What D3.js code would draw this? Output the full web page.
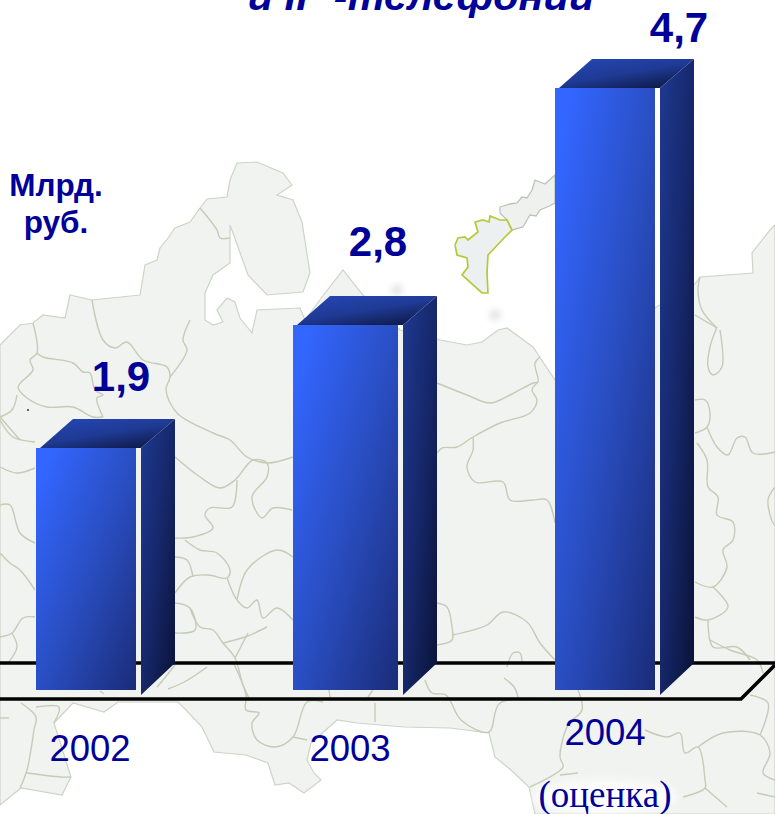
<!DOCTYPE html>
<html><head><meta charset="utf-8">
<script src="https://cdn.jsdelivr.net/npm/d3@7"></script>
<style>html,body{margin:0;padding:0;background:#fff;overflow:hidden}svg{display:block}text{font-family:"Liberation Sans",Arial,sans-serif;fill:#000099}</style>
</head><body><svg id="c" width="775" height="814"></svg>
<script>
const years=["2002","2003","2004"];
const values=[1.9,2.8,4.7];
const valueLabels=["1,9","2,8","4,7"];
const unitLines=["Млрд.","руб."];
const titleText="и IP -телефонии";
const noteText="(оценка)";

// Decorative backdrop map (not data): hand-traced outlines
const land=[[0,345],[20,325],[33,323],[43,315],[65,318],[70,295],[92,300],[140,295],[145,265],[157,260],[160,248],[168,238],[175,228],[190,222],[200,208],[207,199],[227,197],[230,180],[237,163],[257,162],[283,173],[292,185],[277,195],[293,200],[302,222],[310,273],[303,292],[267,295],[248,275],[233,233],[230,225],[230,263],[213,275],[205,293],[205,320],[213,325],[223,322],[217,310],[227,298],[235,302],[240,318],[252,333],[257,310],[300,308],[305,320],[322,297],[343,270],[363,295],[400,330],[440,340],[467,345],[482,342],[498,330],[507,328],[533,347],[557,383],[600,340],[694,285],[700,277],[753,273],[752,253],[770,230],[775,225],[775,814],[535,814],[529,787],[511,770],[495,757],[489,733],[450,728],[404,727],[357,723],[337,720],[311,743],[307,760],[314,773],[321,780],[304,793],[289,783],[275,785],[268,763],[246,755],[214,752],[202,727],[186,710],[178,702],[118,702],[104,712],[73,703],[54,723],[71,777],[62,795],[21,788],[0,805]];
const zemlyaS=[[455,245],[458,238],[465,237],[468,240],[478,232],[475,222],[483,220],[489,222],[490,216],[500,220],[507,220],[512,230],[505,237],[488,255],[487,273],[488,293],[482,293],[462,275],[468,267],[467,258],[457,255],[455,245]];
const zemlyaN=[[500,207],[510,204],[517,203],[522,197],[527,198],[532,190],[535,180],[545,184],[555,175],[555,203],[547,207],[540,210],[536,216],[530,215],[523,227],[512,230],[507,220],[500,213],[500,207]];
const borders=[
[[92,300],[103,340],[115,348],[127,342],[143,360],[167,367],[170,377],[166,390],[177,413],[213,433],[230,440],[247,457],[267,463],[293,457]],
[[190,320],[183,340],[187,350],[170,377]],
[[200,208],[217,230],[220,238],[230,238]],
[[33,323],[37,353],[30,360],[33,370],[18,387],[27,398],[47,407],[73,407],[93,417],[103,417]],
[[37,353],[43,357],[73,363],[83,372],[90,373],[95,390],[103,395],[97,398],[103,417]],
[[17,395],[12,410],[0,417]],[[0,417],[20,440]],
[[0,420],[13,437],[35,442]],[[0,467],[17,473],[35,468]],
[[0,505],[10,505],[20,533],[35,543]],[[0,553],[10,563],[20,570],[35,590]],
[[0,637],[12,633],[23,618],[35,617]],[[12,633],[17,647],[8,663]],
[[175,457],[200,477],[220,488],[235,480],[253,460],[267,463],[267,477],[252,497],[262,518],[273,508],[292,510]],
[[237,480],[232,507],[210,508],[205,515],[213,528],[193,537],[175,538]],
[[185,540],[200,550],[217,553],[230,570],[227,578],[208,575],[190,577],[175,593]],
[[175,557],[187,560],[193,577]],
[[227,578],[237,600],[247,608],[257,600],[263,618],[277,608],[293,620]],
[[237,600],[247,570],[277,550],[293,557]],
[[175,603],[190,608],[195,630],[175,633]],
[[190,608],[200,627],[213,630],[223,643],[235,658],[243,685],[250,700]],
[[223,643],[245,637],[267,627]],[[235,658],[248,633]],
[[175,665],[163,680],[157,687]],[[168,689],[186,681],[207,667]],
[[234,664],[246,695],[246,710],[259,713],[252,723],[257,740],[275,747],[293,737],[307,702],[323,702]],
[[293,737],[307,740]],
[[504,678],[514,687],[518,697]],
[[425,680],[432,693],[446,695],[461,720],[489,732],[500,703],[557,700]],
[[375,703],[375,722]],[[373,690],[368,697]],[[329,690],[330,697]],
[[21,703],[36,717],[34,730],[27,770],[20,788]],[[27,773],[61,777],[71,777]],[[36,707],[59,707],[54,723]],[[0,718],[9,718]],
[[104,694],[100,691]],
[[437,383],[467,395],[490,403],[510,395],[533,383],[538,382],[535,363],[540,357]],
[[538,382],[532,390],[537,400],[530,413],[500,423],[473,437],[457,447],[442,448],[437,453]],
[[473,437],[473,450],[467,467],[475,482],[503,482],[510,500],[533,500],[547,500],[555,523]],
[[437,603],[447,607],[452,627],[452,640],[437,645]],
[[452,635],[487,625],[503,612],[527,622],[540,643],[555,660]],
[[507,667],[513,653],[520,653],[522,663]],
[[700,277],[698,290],[702,310],[717,328]],[[695,315],[717,328]],
[[717,327],[710,347],[708,367],[713,375],[722,367],[720,330]],
[[695,400],[705,400],[710,413],[707,427],[695,433]],
[[707,427],[717,447],[728,455],[737,438],[745,437],[753,453],[775,452]],
[[697,443],[707,460],[708,487],[718,497],[717,515],[733,522],[733,540],[723,550],[727,567],[713,587],[695,582]],
[[713,587],[728,607],[708,620],[695,617]],
[[708,620],[713,647],[737,647],[750,660]],
[[775,487],[768,500],[773,523],[775,525]],
[[578,690],[582,710],[568,725],[560,757],[563,767],[530,787]],[[560,775],[578,773]],
[[645,730],[667,737],[680,733],[685,753],[698,747],[705,780],[705,788],[683,797]],
[[698,747],[723,733],[760,735],[770,753],[763,773],[775,780]],
[[760,735],[768,703],[750,695]],[[705,788],[727,807]],[[757,793],[775,797]],
[[710,640],[730,650],[757,660],[763,673]]
];

const svg=d3.select("#c");
const defs=svg.append("defs");
function grad(id,x2,y2,stops){
  const g=defs.append("linearGradient").attr("id",id).attr("x1",0).attr("y1",0).attr("x2",x2).attr("y2",y2);
  stops.forEach(s=>g.append("stop").attr("offset",s[0]).attr("stop-color",s[1]));
}
grad("front",1,1,[[0.08,"#3366ff"],[0.5,"#2a4fc4"],[1,"#1a2c78"]]);
grad("side",1,1,[[0,"#1f3a92"],[0.5,"#16276a"],[1,"#0a1235"]]);
grad("top",0.75,1,[[0,"#2648b8"],[0.55,"#1f3a94"],[1,"#101b4c"]]);
defs.append("filter").attr("id","soft").attr("x","-5%").attr("y","-5%").attr("width","110%").attr("height","110%")
  .append("feGaussianBlur").attr("stdDeviation",0.6);
defs.append("filter").attr("id","blob").append("feGaussianBlur").attr("stdDeviation",3);
defs.append("filter").attr("id","halo").attr("x","-20%").attr("y","-40%").attr("width","140%").attr("height","180%")
  .append("feGaussianBlur").attr("stdDeviation",5);

// Backdrop
const curve=d3.line().curve(d3.curveCatmullRom.alpha(0.5));
const straight=d3.line();
const map=svg.append("g").attr("filter","url(#soft)");
map.append("path").attr("d",straight(land)+"Z").attr("fill","#f0f3ef").attr("stroke","#cdd4c8").attr("stroke-width",1.2);
map.append("path").attr("d",straight(zemlyaN)).attr("fill","#eef1ee").attr("stroke","#bcc4b8").attr("stroke-width",1.3);
map.selectAll("path.b").data(borders).join("path").attr("class","b").attr("d",d=>curve(d))
  .attr("fill","none").attr("stroke","#c3ccb6").attr("stroke-width",1.4);
map.append("path").attr("d",straight(zemlyaS)).attr("fill","#edf0f0").attr("stroke","#b4c936").attr("stroke-width",1.7);
svg.append("g").attr("filter","url(#blob)").selectAll("circle").data([[397,290],[495,315]]).join("circle")
  .attr("cx",d=>d[0]).attr("cy",d=>d[1]).attr("r",6).attr("fill","#e4e6e4");
svg.append("circle").attr("cx",28).attr("cy",410).attr("r",1).attr("fill","#333");
svg.append("ellipse").attr("cx",605).attr("cy",797).attr("rx",72).attr("ry",16).attr("fill","#fff").attr("filter","url(#halo)");

// Floor
const floor=svg.append("g").attr("fill","none").attr("stroke","#000").attr("stroke-width",3.6);
floor.append("path").attr("d","M0,663H775");
floor.append("path").attr("d","M0,699H741L775,665");

// Scales
const y=d3.scaleLinear().domain([0,1.9,2.8,4.7]).range([690,448,325,88]);
const xFront=d3.scaleOrdinal().domain(years).range([36,293,555]);
const wFront=d3.scaleOrdinal().domain(years).range([100,105,100]);
const xLabel=d3.scaleOrdinal().domain(years).range([121,378,679]);
const yLabel=d3.scaleOrdinal().domain(years).range([391,256,42]);
const xYear=d3.scaleOrdinal().domain(years).range([90,350,605]);
const yYear=d3.scaleOrdinal().domain(years).range([761,761,745]);
const gap=5,depth=34,rise=28;

const rows=years.map((yr,i)=>({yr,v:values[i],label:valueLabels[i]}));
const bars=svg.selectAll("g.bar").data(rows).join("g").attr("class","bar");
const pts=a=>a.map(p=>p.join(",")).join(" ");
bars.append("polygon").attr("fill","url(#top)").attr("points",d=>{
  const x0=xFront(d.yr),x1=x0+wFront(d.yr)+gap,t=y(d.v);
  return pts([[x0+4,t],[x0+4+depth-1,t-rise-1],[x1+depth,t-rise-1],[x1,t]]);
});
bars.append("polygon").attr("fill","url(#side)").attr("points",d=>{
  const x1=xFront(d.yr)+wFront(d.yr)+gap,t=y(d.v),b=y(0);
  return pts([[x1,t],[x1+depth,t-rise-1],[x1+depth,b-27],[x1,b+5]]);
});
bars.append("rect").attr("fill","url(#front)")
  .attr("x",d=>xFront(d.yr)).attr("y",d=>y(d.v))
  .attr("width",d=>wFront(d.yr)).attr("height",d=>y(0)-y(d.v));

// Text
bars.append("text").attr("x",d=>xLabel(d.yr)).attr("y",d=>yLabel(d.yr)).attr("text-anchor","middle")
  .attr("font-size",42).attr("font-weight","bold").text(d=>d.label);
bars.append("text").attr("x",d=>xYear(d.yr)).attr("y",d=>yYear(d.yr)).attr("text-anchor","middle")
  .attr("font-size",36.5).text(d=>d.yr);
svg.append("text").attr("x",421).attr("y",10).attr("text-anchor","middle").attr("font-size",41.5)
  .attr("font-weight","bold").attr("font-style","italic").text(titleText);
svg.selectAll("text.u").data(unitLines).join("text").attr("class","u").attr("x",56)
  .attr("y",(d,i)=>196+i*37).attr("text-anchor","middle").attr("font-size",31.5).attr("font-weight","bold").text(d=>d);
svg.append("text").attr("x",605).attr("y",807).attr("text-anchor","middle").attr("font-size",37)
  .style("font-family","'Liberation Serif',serif").text(noteText);
</script></body></html>
